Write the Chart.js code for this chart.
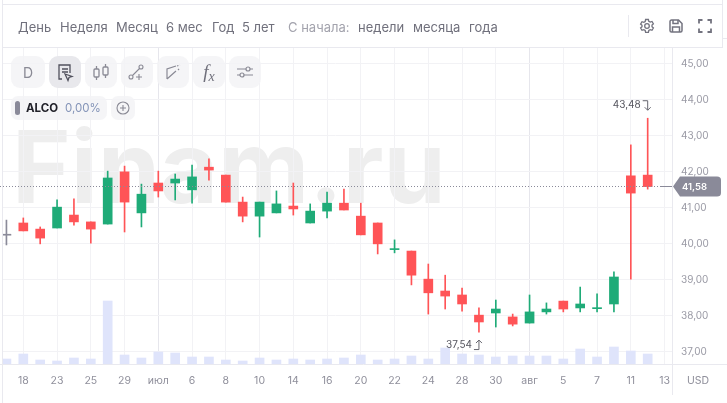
<!DOCTYPE html>
<html><head><meta charset="utf-8">
<script src="https://cdn.jsdelivr.net/npm/chart.js@4/dist/chart.umd.min.js"></script>
<style>
html,body{margin:0;padding:0;background:#fff;width:727px;height:403px;overflow:hidden;font-family:Inter,sans-serif}
#wrap{position:relative;width:727px;height:403px;overflow:hidden}
.wm{position:absolute;left:12px;top:107px;font:700 100px/120px Inter,sans-serif;color:#eeeeee;letter-spacing:0;white-space:nowrap;z-index:0}
canvas{position:absolute;left:-10px;top:0;z-index:1}
.ln{position:absolute;background:#e9e9ef;z-index:2}
.t{position:absolute;top:19px;font-size:13px;line-height:16px;color:#70707c;white-space:nowrap;z-index:3}
.t.l{color:#a3a3ad}
.b{position:absolute;top:56px;width:32px;height:32px;border-radius:9px;background:rgba(243,243,246,.85);z-index:3;display:flex;align-items:center;justify-content:center;color:#8a8a95}
.b.a{background:#e8e8ec;color:#50505c}
.b svg,.i svg{display:block}
.i{position:absolute;top:16px;width:20px;height:20px;z-index:3;color:#73737f}
#pill{position:absolute;left:11px;top:96px;width:96px;height:24px;border-radius:7px;background:rgba(243,243,246,.85);z-index:3}
#plus{position:absolute;left:111px;top:96px;width:24px;height:24px;border-radius:7px;background:rgba(243,243,246,.85);z-index:3;display:flex;align-items:center;justify-content:center}
#usd{position:absolute;left:687px;top:374px;font-size:10.5px;line-height:14px;color:#8f8f9b;z-index:3}
</style></head><body>
<div id="wrap">
<div class="wm">Finam.ru</div>
<canvas id="c" width="737" height="403"></canvas>
<div class="ln" style="left:2px;top:4px;width:721px;height:1px"></div>
<div class="ln" style="left:2px;top:47px;width:721px;height:1px"></div>
<div class="ln" style="left:722px;top:0;width:1px;height:48px"></div>
<div class="ln" style="left:2px;top:0;width:1px;height:403px"></div>
<div class="ln" style="left:723px;top:38px;width:4px;height:1px"></div>
<div class="ln" style="left:628px;top:15px;width:1px;height:22px"></div>

<span class="t" style="left:18px">День</span>
<span class="t" style="left:60px">Неделя</span>
<span class="t" style="left:116px">Месяц</span>
<span class="t" style="left:166px">6 мес</span>
<span class="t" style="left:212px">Год</span>
<span class="t" style="left:242px">5 лет</span>
<span class="t l" style="left:288px">С начала:</span>
<span class="t" style="left:358px">недели</span>
<span class="t" style="left:413px">месяца</span>
<span class="t" style="left:469px">года</span>

<div class="i" style="left:637px"><svg width="20" height="20" viewBox="0 0 20 20" fill="none" stroke="currentColor" stroke-width="1.3"><circle cx="10" cy="10" r="2.3"/><path d="M8.6 3.5h2.8l.4 1.8 1.4.8 1.8-.6 1.4 2.4-1.4 1.2v1.6l1.4 1.2-1.4 2.4-1.8-.6-1.4.8-.4 1.8H8.6l-.4-1.8-1.4-.8-1.8.6-1.4-2.4 1.4-1.2V9.3L3.6 8.1l1.4-2.4 1.8.6 1.4-.8z"/></svg></div>
<div class="i" style="left:666px"><svg width="20" height="20" viewBox="0 0 20 20" fill="none" stroke="currentColor" stroke-width="1.5"><path d="M4 5.5A1.5 1.5 0 0 1 5.500 4h7l3.500 3.500v7a1.500 1.500 0 0 1-1.500 1.500h-9A1.500 1.500 0 0 1 4 14.500z"/><path d="M7 4v3.500h5V4M6.500 16v-5h7v5"/></svg></div>
<div class="i" style="left:695px"><svg width="20" height="20" viewBox="0 0 20 20" fill="none" stroke="currentColor" stroke-width="1.800"><path d="M4 7.500V4h3.500M12.500 4H16v3.500M16 12.500V16h-3.500M7.500 16H4v-3.500"/></svg></div>

<div class="b" style="left:11px;width:34px;font-size:14px">D</div>
<div class="b a" style="left:49px"><svg width="22" height="22" viewBox="0 0 22 22" fill="none" stroke="currentColor" stroke-width="1.300"><path d="M8 18H5V4h11v8M8 8h6M8 11h6"/><path d="M11 13l7 2.500-3 1-1 3z"/></svg></div>
<div class="b" style="left:85px"><svg width="22" height="22" viewBox="0 0 22 22" fill="none" stroke="currentColor" stroke-width="1.300"><rect x="4" y="8" width="5" height="8" rx="1"/><rect x="13" y="6" width="5" height="8" rx="1"/><path d="M6.500 5v3M6.500 16v3M15.500 3v3M15.500 14v3"/></svg></div>
<div class="b" style="left:121px"><svg width="22" height="22" viewBox="0 0 22 22" fill="none" stroke="currentColor" stroke-width="1.100"><circle cx="15" cy="6" r="2"/><circle cx="5" cy="16" r="2"/><path d="M13.500 7.500l-7 7M13 13v6M10 16h6"/></svg></div>
<div class="b" style="left:157px"><svg width="22" height="22" viewBox="0 0 22 22" fill="none" stroke="currentColor" stroke-width="1.200"><path d="M5 18V8l9-3M5 18l9-8"/><path d="M15 5l3-1M16 9l2-2" stroke-dasharray="1.500 1.500"/></svg></div>
<div class="b" style="left:193px;font:italic 19px 'Liberation Serif',serif;color:#70707c"><span>f<span style="font-size:14px;position:relative;top:3px">x</span></span></div>
<div class="b" style="left:229px"><svg width="22" height="22" viewBox="0 0 22 22" fill="none" stroke="currentColor" stroke-width="1.200"><path d="M3 8h9M16 8h3M3 14h3M10 14h9"/><circle cx="14" cy="8" r="2"/><circle cx="8" cy="14" r="2"/></svg></div>

<div id="pill">
<span style="position:absolute;left:4px;top:5px;width:5px;height:14px;border-radius:2.500px;background:#8a8a99"></span>
<span style="position:absolute;left:15px;top:4px;font-size:11.500px;line-height:16px;font-weight:700;color:#22222a">ALCO</span>
<span style="position:absolute;left:54px;top:4px;font-size:11.500px;line-height:16px;color:#8494b8">0,00%</span>
</div>
<div id="plus"><svg width="16" height="16" viewBox="0 0 16 16" fill="none" stroke="#8a8a95" stroke-width="1.100"><circle cx="8" cy="8" r="6"/><path d="M8 5v6M5 8h6"/></svg></div>
<div id="usd">USD</div>
</div>
<script>
const categories = ['', '18', '', '23', '', '25', '', '29', '', 'июл', '', '6', '', '8', '', '10', '', '14', '', '16', '', '20', '', '22', '', '24', '', '28', '', '30', '', 'авг', '', '5', '', '7', '', '11', '', '13'];
const opens  = [40.23,40.57,40.40,40.43,40.79,40.60,40.54,41.99,40.85,41.68,41.68,41.49,42.12,41.90,41.15,40.76,40.85,41.04,40.57,40.90,41.12,40.76,40.57,39.83,39.79,39.01,38.68,38.57,38.01,38.07,37.96,37.79,38.10,38.40,38.21,38.19,38.32,41.88,41.90];
const highs  = [40.65,40.71,40.46,41.21,41.24,40.60,42.01,42.15,41.65,42.01,41.93,42.18,42.35,41.90,41.29,41.15,41.46,41.68,41.10,41.43,41.51,41.12,40.57,40.10,39.79,39.43,39.12,38.76,38.21,38.43,38.04,38.57,38.35,38.40,38.79,38.60,39.21,42.74,43.48];
const lows   = [39.96,40.35,39.99,40.43,40.51,40.01,40.54,40.32,40.46,41.29,41.21,41.12,41.76,41.15,40.60,40.18,40.85,40.79,40.57,40.71,40.93,40.24,39.71,39.74,38.85,38.04,38.18,38.12,37.54,37.68,37.71,37.79,38.04,38.10,38.10,38.10,38.10,39.01,41.51];
const closes = [40.23,40.35,40.15,41.01,40.60,40.40,41.82,41.15,41.37,41.46,41.79,41.85,42.04,41.15,40.76,41.15,41.10,40.96,40.90,41.12,40.93,40.24,39.99,39.84,39.12,38.63,38.54,38.32,37.82,38.18,37.76,38.10,38.18,38.18,38.32,38.20,39.07,41.40,41.58];
const volumes = [5,10,4,3,6,5,63,9,6,12,11,7,7,4,3,6,4,5,4,5,6,9,4,5,8,5,16,10,9,7,8,8,8,5,15,7,17,13,10];
const lastPrice = 41.58;
const maxPrice = 43.48;
const minPrice = 37.54;
const yTicksMin = 36.6528, yTicksMax = 45.4306, volMax = 316;

const UP='#1fab78', DOWN='#ff5457', FLAT='#8a8a99';
const col = opens.map((o,i)=> closes[i]>o?UP:closes[i]<o?DOWN:FLAT);
const fmt = v => v.toFixed(2).replace('.',',');

function arrow(ctx,x,y,dir){
  ctx.save();ctx.strokeStyle='#66666f';ctx.lineWidth=1;ctx.beginPath();
  if(dir>0){
    ctx.moveTo(x-5,y-4.500);ctx.lineTo(x,y-4.500);ctx.lineTo(x,y+5);
    ctx.moveTo(x-3,y+2);ctx.lineTo(x,y+5);ctx.lineTo(x+3,y+2);
  }else{
    ctx.moveTo(x-5,y+4.500);ctx.lineTo(x,y+4.500);ctx.lineTo(x,y-5);
    ctx.moveTo(x-3,y-2);ctx.lineTo(x,y-5);ctx.lineTo(x+3,y-2);
  }
  ctx.stroke();ctx.restore();
}
const overlay = {
  id:'overlay',
  afterDatasetsDraw(chart){
    const {ctx,scales:{x,y}} = chart;
    ctx.save();
    ctx.clearRect(0,0,13,403);
    ctx.translate(10,0);
    ctx.strokeStyle='#e9e9ef';ctx.lineWidth=1;
    ctx.beginPath();ctx.moveTo(0,364.500);ctx.lineTo(727,364.500);
    ctx.moveTo(672.500,48);ctx.lineTo(672.500,395);ctx.stroke();
    const py=Math.floor(y.getPixelForValue(lastPrice))+0.500;
    ctx.strokeStyle=FLAT;
    ctx.setLineDash([1,2]);ctx.beginPath();ctx.moveTo(0,py);ctx.lineTo(660,py);ctx.stroke();
    ctx.setLineDash([]);ctx.beginPath();ctx.moveTo(660,py);ctx.lineTo(672,py);ctx.stroke();
    ctx.fillStyle=FLAT;ctx.beginPath();
    ctx.moveTo(673,py);ctx.lineTo(680,176.500);ctx.lineTo(717,176.500);ctx.quadraticCurveTo(721,176.500,721,180);
    ctx.lineTo(721,193);ctx.quadraticCurveTo(721,196.500,717,196.500);ctx.lineTo(680,196.500);ctx.closePath();ctx.fill();
    ctx.fillStyle='#fff';ctx.font='600 9.5px Inter';ctx.textAlign='left';ctx.textBaseline='middle';
    ctx.fillText(fmt(lastPrice),682,py+0.500);
    ctx.font='10px Inter';ctx.fillStyle='#55555e';ctx.textAlign='right';
    const hi=highs.indexOf(maxPrice), lo=lows.indexOf(minPrice);
    const hx=x.getPixelForValue(hi)-10, hy=y.getPixelForValue(maxPrice)-13;
    ctx.fillText(fmt(maxPrice),hx-7,hy);arrow(ctx,hx,hy,1);
    const lx=x.getPixelForValue(lo)-10, ly=y.getPixelForValue(minPrice)+13;
    ctx.fillText(fmt(minPrice),lx-7,ly);arrow(ctx,lx,ly,-1);
    ctx.restore();
  }
};
new Chart(document.getElementById('c'),{
  type:'bar',
  data:{labels:categories,datasets:[
    {yAxisID:'v',data:volumes,backgroundColor:'#dfe4fb',barThickness:9,grouped:false,order:3},
    {yAxisID:'y',data:highs.map((h,i)=>[lows[i],h]),backgroundColor:col,barThickness:1,grouped:false,order:2},
    {yAxisID:'y',data:opens.map((o,i)=>[o,closes[i]]),backgroundColor:col,barThickness:9,minBarLength:1,grouped:false,order:1}
  ]},
  options:{
    responsive:false,animation:false,devicePixelRatio:1,
    layout:{padding:{left:8,top:48,right:0,bottom:0}},
    plugins:{legend:{display:false},tooltip:{enabled:false}},
    scales:{
      x:{type:'category',offset:true,
        grid:{offset:false,drawTicks:false,tickLength:0,
          color:c=>{const l=categories[c.index];return !l?'transparent':(l==='июл'||l==='авг')?'#e6e6ec':'#f2f2f5';}},
        border:{display:false},
        ticks:{autoSkip:false,maxRotation:0,minRotation:0,padding:11,color:'#8f8f9b',font:{family:'Inter',size:10.5},
          callback:(v,i)=>categories[i]},
        afterFit(s){s.height=39;}
      },
      y:{position:'right',min:yTicksMin,max:yTicksMax,
        grid:{drawTicks:false,tickLength:0,color:'#f2f2f5'},
        border:{display:false},
        ticks:{stepSize:1,includeBounds:false,padding:8,color:'#9a9aa5',font:{family:'Inter',size:10},callback:v=>fmt(v)},
        afterFit(s){s.width=54;}
      },
      v:{display:false,min:0,max:volMax}
    }
  },
  plugins:[overlay]
});
</script>
</body></html>
